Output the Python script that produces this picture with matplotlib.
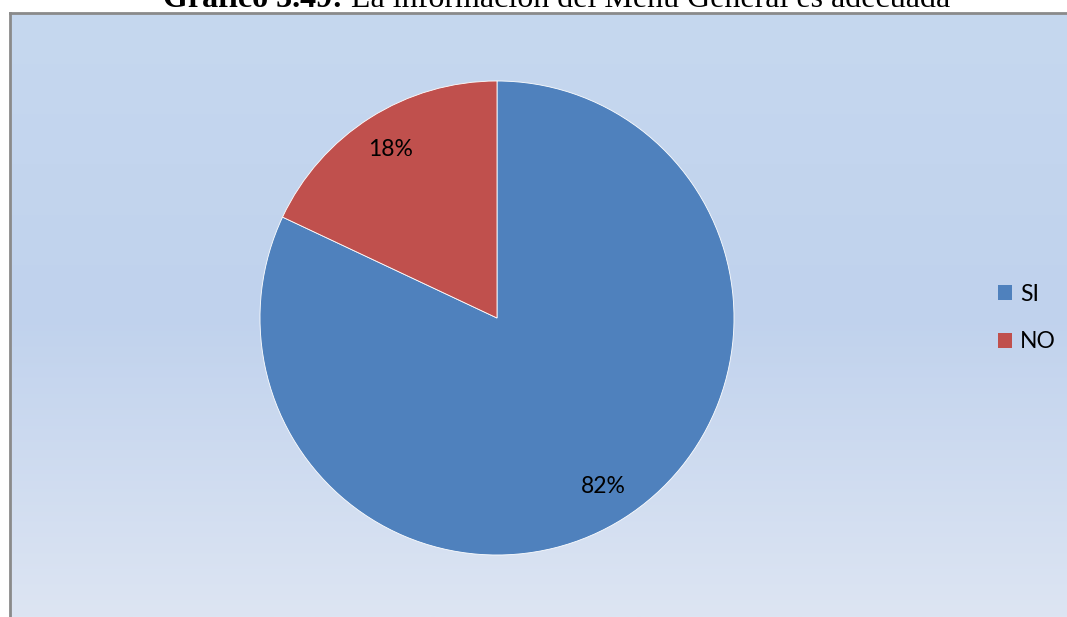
import numpy as np
import matplotlib.pyplot as plt
from matplotlib.patches import Patch

# datos del grafico
categorias = ['SI', 'NO']
porcentajes = [82, 18]
colores = ['#4f81bd', '#c0504d']
titulo_a = 'Gráfico 3.49:'
titulo_b = ' La información del Menú General es adecuada'

W, H = 1067, 617
fig = plt.figure(figsize=(W / 100, H / 100), dpi=100)
fig.patch.set_facecolor('white')

# fondo con degradado (area del grafico)
bg = fig.add_axes([10 / W, 0, 1 - 10 / W, (H - 13) / H])
grad = np.array([[198, 216, 239], [192, 210, 237], [221, 229, 243]]) / 255.0
t = np.linspace(0, 1, 300)
cols = np.empty((300, 1, 3))
for k in range(3):
    cols[:, 0, k] = np.interp(t, [0, 0.5, 1], grad[:, k])
bg.imshow(cols, aspect='auto', extent=[0, 1, 0, 1])
bg.set_xlim(0, 1)
bg.set_ylim(0, 1)
bg.set_xticks([])
bg.set_yticks([])
for s in ['right', 'bottom']:
    bg.spines[s].set_visible(False)
for s in ['left', 'top']:
    bg.spines[s].set_color('#8a8a8a')
    bg.spines[s].set_linewidth(2)

# titulo (cortado arriba como en el original)
t1 = fig.text(163 / W, 1 - 7 / H, titulo_a, fontfamily='Liberation Serif',
              fontweight='bold', fontsize=23, ha='left', va='baseline')
fig.canvas.draw()
bb = t1.get_window_extent()
fig.text(bb.x1 / W, 1 - 7 / H, titulo_b,
         fontfamily='Liberation Serif', fontsize=23, ha='left', va='baseline')

# pastel
cx, cy, r = 497, 318, 237
ax = fig.add_axes([(cx - r) / W, (H - cy - r) / H, 2 * r / W, 2 * r / H])
wedges, texts, autotexts = ax.pie(porcentajes, colors=colores, startangle=90,
                                  counterclock=False, autopct='%d%%', pctdistance=0.84,
                                  wedgeprops=dict(edgecolor='white', linewidth=0.6),
                                  textprops=dict(fontfamily='Lato', fontsize=16.5, color='black'))
ax.set_xlim(-1, 1)
ax.set_ylim(-1, 1)
ax.set_aspect('equal')
ax.axis('off')

# leyenda
handles = [Patch(facecolor=c, edgecolor='none') for c in colores]
fig.legend(handles, categorias, loc='center left', bbox_to_anchor=(977 / W, 1 - 318 / H),
           frameon=False, prop=dict(family='Lato', size=16.5), handlelength=0.62,
           handleheight=0.62, handletextpad=0.35, labelspacing=1.15)

plt.savefig('out.png', dpi=100)
